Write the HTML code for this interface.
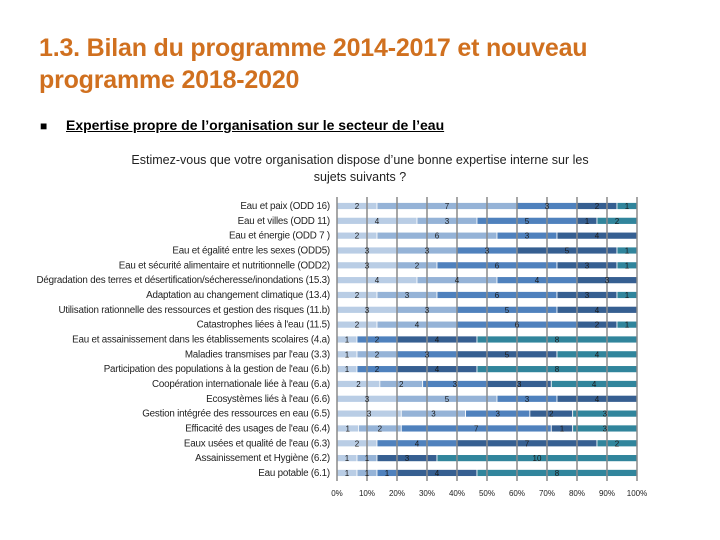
<!DOCTYPE html>
<html><head><meta charset="utf-8">
<style>
body{margin:0;width:720px;height:540px;background:#fff;position:relative;font-family:"Liberation Sans",sans-serif;overflow:hidden}
.t{position:absolute;left:39px;top:32px;color:#d0701f;font-weight:bold;font-size:25px;line-height:32px;letter-spacing:-0.2px}
.b{position:absolute;left:40px;top:119px;font-size:12px;font-weight:bold}
.bl{position:absolute;left:66px;top:117px;font-size:14px;font-weight:bold;text-decoration:underline}
.s{position:absolute;left:0;width:720px;top:152px;text-align:center;font-size:12.5px;line-height:17px;color:#222}
</style></head><body>
<div class="t">1.3. Bilan du programme 2014-2017 et nouveau<br>programme 2018-2020</div>
<div class="b">■</div>
<div class="bl">Expertise propre de l’organisation sur le secteur de l’eau</div>
<div class="s">Estimez-vous que votre organisation dispose d’une bonne expertise interne sur les<br>sujets suivants ?</div>
<svg id="c" width="720" height="540" style="position:absolute;left:0;top:0"></svg>
<script>
const categories=["Eau et paix (ODD 16)","Eau et villes (ODD 11)","Eau et énergie (ODD 7 )","Eau et égalité entre les sexes (ODD5)","Eau et sécurité alimentaire et nutritionnelle (ODD2)","Dégradation des terres et désertification/sécheresse/inondations (15.3)","Adaptation au changement climatique (13.4)","Utilisation rationnelle des ressources et gestion des risques (11.b)","Catastrophes liées à l'eau (11.5)","Eau et assainissement dans les établissements scolaires (4.a)","Maladies transmises par l'eau (3.3)","Participation des populations à la gestion de l'eau (6.b)","Coopération internationale liée à l'eau (6.a)","Ecosystèmes liés à l'eau (6.6)","Gestion intégrée des ressources en eau (6.5)","Efficacité des usages de l'eau (6.4)","Eaux usées et qualité de l'eau (6.3)","Assainissement et Hygiène (6.2)","Eau potable (6.1)"];
const s1=[2,4,2,3,3,4,2,3,2,1,1,1,2,3,3,1,2,1,1];
const s2=[7,3,6,3,2,4,3,3,4,0,2,0,2,5,3,2,0,1,1];
const s3=[3,5,3,3,6,4,6,5,6,2,3,2,3,3,3,7,4,0,1];
const s4=[2,1,4,5,3,3,3,4,2,4,5,4,3,4,2,1,7,3,4];
const s5=[1,2,0,1,1,0,1,0,1,8,4,8,4,0,3,3,2,10,8];
const ticks=["0%","10%","20%","30%","40%","50%","60%","70%","80%","90%","100%"];
const series=[s1,s2,s3,s4,s5];
const colors=["#b9cde5","#95b3d7","#4f81bd","#365f91","#31859c"];
const NS="http://www.w3.org/2000/svg",svg=document.getElementById('c');
const X0=337,W=300,Y0=206,DY=14.83,BH=7;
const x=p=>X0+p*W, y=i=>Y0+i*DY;
function mk(t,a){const e=document.createElementNS(NS,t);for(const k in a)e.setAttribute(k,a[k]);svg.appendChild(e);return e;}
const texts=[];
categories.forEach((c,i)=>{
  const l=mk('text',{x:330,y:y(i)+3,'font-size':9.8,'text-anchor':'end',fill:'#222','letter-spacing':-0.2});
  l.textContent=c;
  
  
  const tot=series.reduce((a,s)=>a+s[i],0);let acc=0;
  series.forEach((s,k)=>{
    const v=s[i];if(!v)return;
    const r=mk('rect',{x:x(acc/tot),y:y(i)-BH/2,width:v/tot*W,height:BH,fill:colors[k],stroke:'#fff','stroke-width':0.8});
    
    
    texts.push([x((acc+v/2)/tot),y(i)+3,v]);
    acc+=v;
  });
});
ticks.forEach((t,i)=>{
  const g=mk('line',{x1:x(i/10),x2:x(i/10),y1:197,y2:481,stroke:'#8a8a8a','stroke-width':1.5});
  
  
  const l=mk('text',{x:x(i/10),y:496,'font-size':8,'text-anchor':'middle',fill:'#222'});
  l.textContent=t;
  
  
});
texts.forEach(d=>{
  const t=mk('text',{x:d[0],y:d[1],'font-size':8,'text-anchor':'middle',fill:'#1a1a1a'});
  t.textContent=d[2];
  
  
});
</script>
</body></html>
